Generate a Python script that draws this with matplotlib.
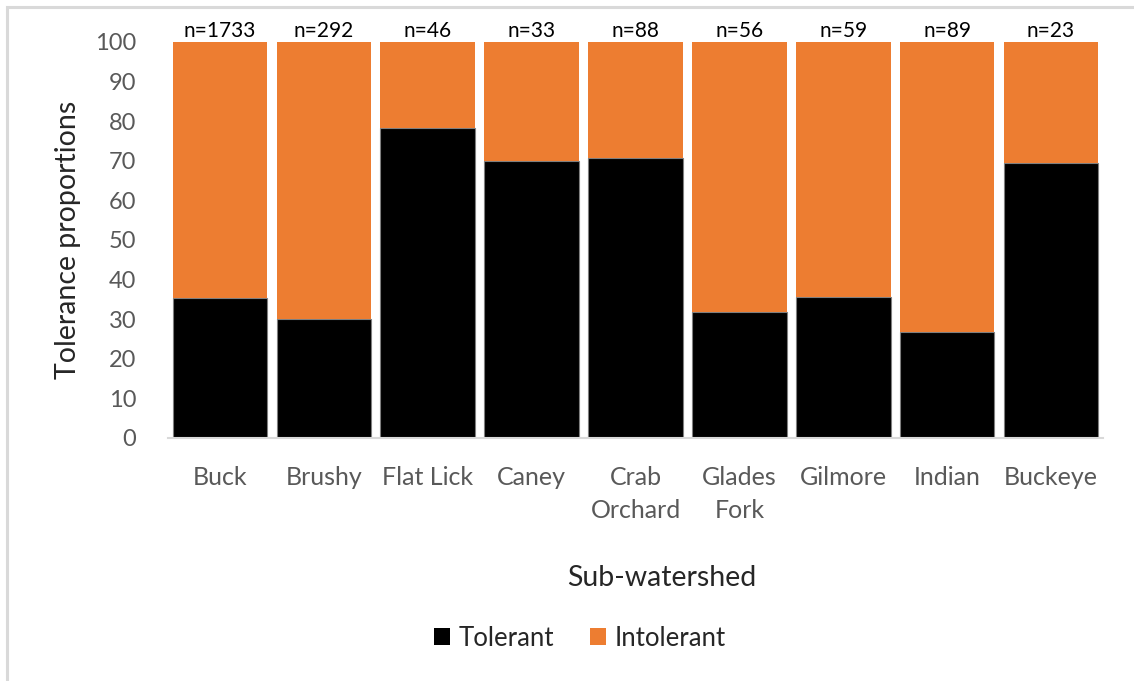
import matplotlib

matplotlib.use("Agg")
import matplotlib.pyplot as plt
from matplotlib.patches import Rectangle, Patch

# Tolerant share per sub-watershed (percent); intolerant is the remainder
watersheds = ["Buck", "Brushy", "Flat Lick", "Caney", "Crab\nOrchard",
              "Glades\nFork", "Gilmore", "Indian", "Buckeye"]
tolerant = [35.3, 30.0, 78.3, 70.0, 70.7, 31.7, 35.6, 26.8, 69.4]
intolerant = [100 - t for t in tolerant]
n_counts = [1733, 292, 46, 33, 88, 56, 59, 89, 23]

TOL_COLOR = "#000000"
INTOL_COLOR = "#ED7D31"
GRAY_TEXT = "#595959"

plt.rcParams["font.family"] = ["Lato", "DejaVu Sans"]

fig = plt.figure(figsize=(11.34, 6.81), dpi=100)
ax = fig.add_axes([168 / 1134, 1 - 438 / 681, (1103 - 168) / 1134, (438 - 42) / 681])

x = range(len(watersheds))
ax.bar(x, tolerant, width=0.91, color=TOL_COLOR, edgecolor="#7f7f7f",
       linewidth=0.8, label="Tolerant", zorder=2)
ax.bar(x, intolerant, bottom=tolerant, width=0.91, color=INTOL_COLOR,
       linewidth=0.0, label="Intolerant", zorder=2)

for i, n in enumerate(n_counts):
    ax.text(i, 100.2, f"n={n}", ha="center", va="bottom", fontsize=15, color="black")

ax.set_xlim(-0.5, len(watersheds) - 0.5)
ax.set_ylim(0, 100)
ax.set_yticks(range(0, 101, 10))
ax.set_xticks(list(x))
ax.set_xticklabels(watersheds, linespacing=1.55)
ax.tick_params(axis="y", length=0, pad=23, labelsize=17, labelcolor=GRAY_TEXT)
ax.tick_params(axis="x", length=0, pad=20, labelsize=18, labelcolor=GRAY_TEXT)

for side in ["top", "right", "left"]:
    ax.spines[side].set_visible(False)
ax.spines["bottom"].set_color("#d9d9d9")
ax.spines["bottom"].set_linewidth(1.5)

fig.text(68 / 1134, 1 - 240 / 681, "Tolerance proportions", rotation=90,
         ha="center", va="center", fontsize=20.5, color="#262626")
fig.text(662 / 1134, 1 - 578 / 681, "Sub-watershed", ha="center", va="center",
         fontsize=20.5, color="#262626")

handles = [Patch(facecolor=TOL_COLOR, label="Tolerant"),
           Patch(facecolor=INTOL_COLOR, label="Intolerant")]
fig.legend(handles=handles, loc="center", bbox_to_anchor=(580 / 1134, 1 - 638 / 681),
           ncol=2, frameon=False, fontsize=18.5, handlelength=0.6, handleheight=0.6,
           handletextpad=0.35, columnspacing=1.4, labelcolor="#262626")

# light chart-area border (only top and left edges fall inside the canvas)
fig.patches.append(Rectangle((7 / 1134, -0.05), 1.2, 1 - 7 / 681 + 0.05,
                             transform=fig.transFigure, fill=False,
                             edgecolor="#d9d9d9", linewidth=2.2))

fig.savefig("out.png", dpi=100)
